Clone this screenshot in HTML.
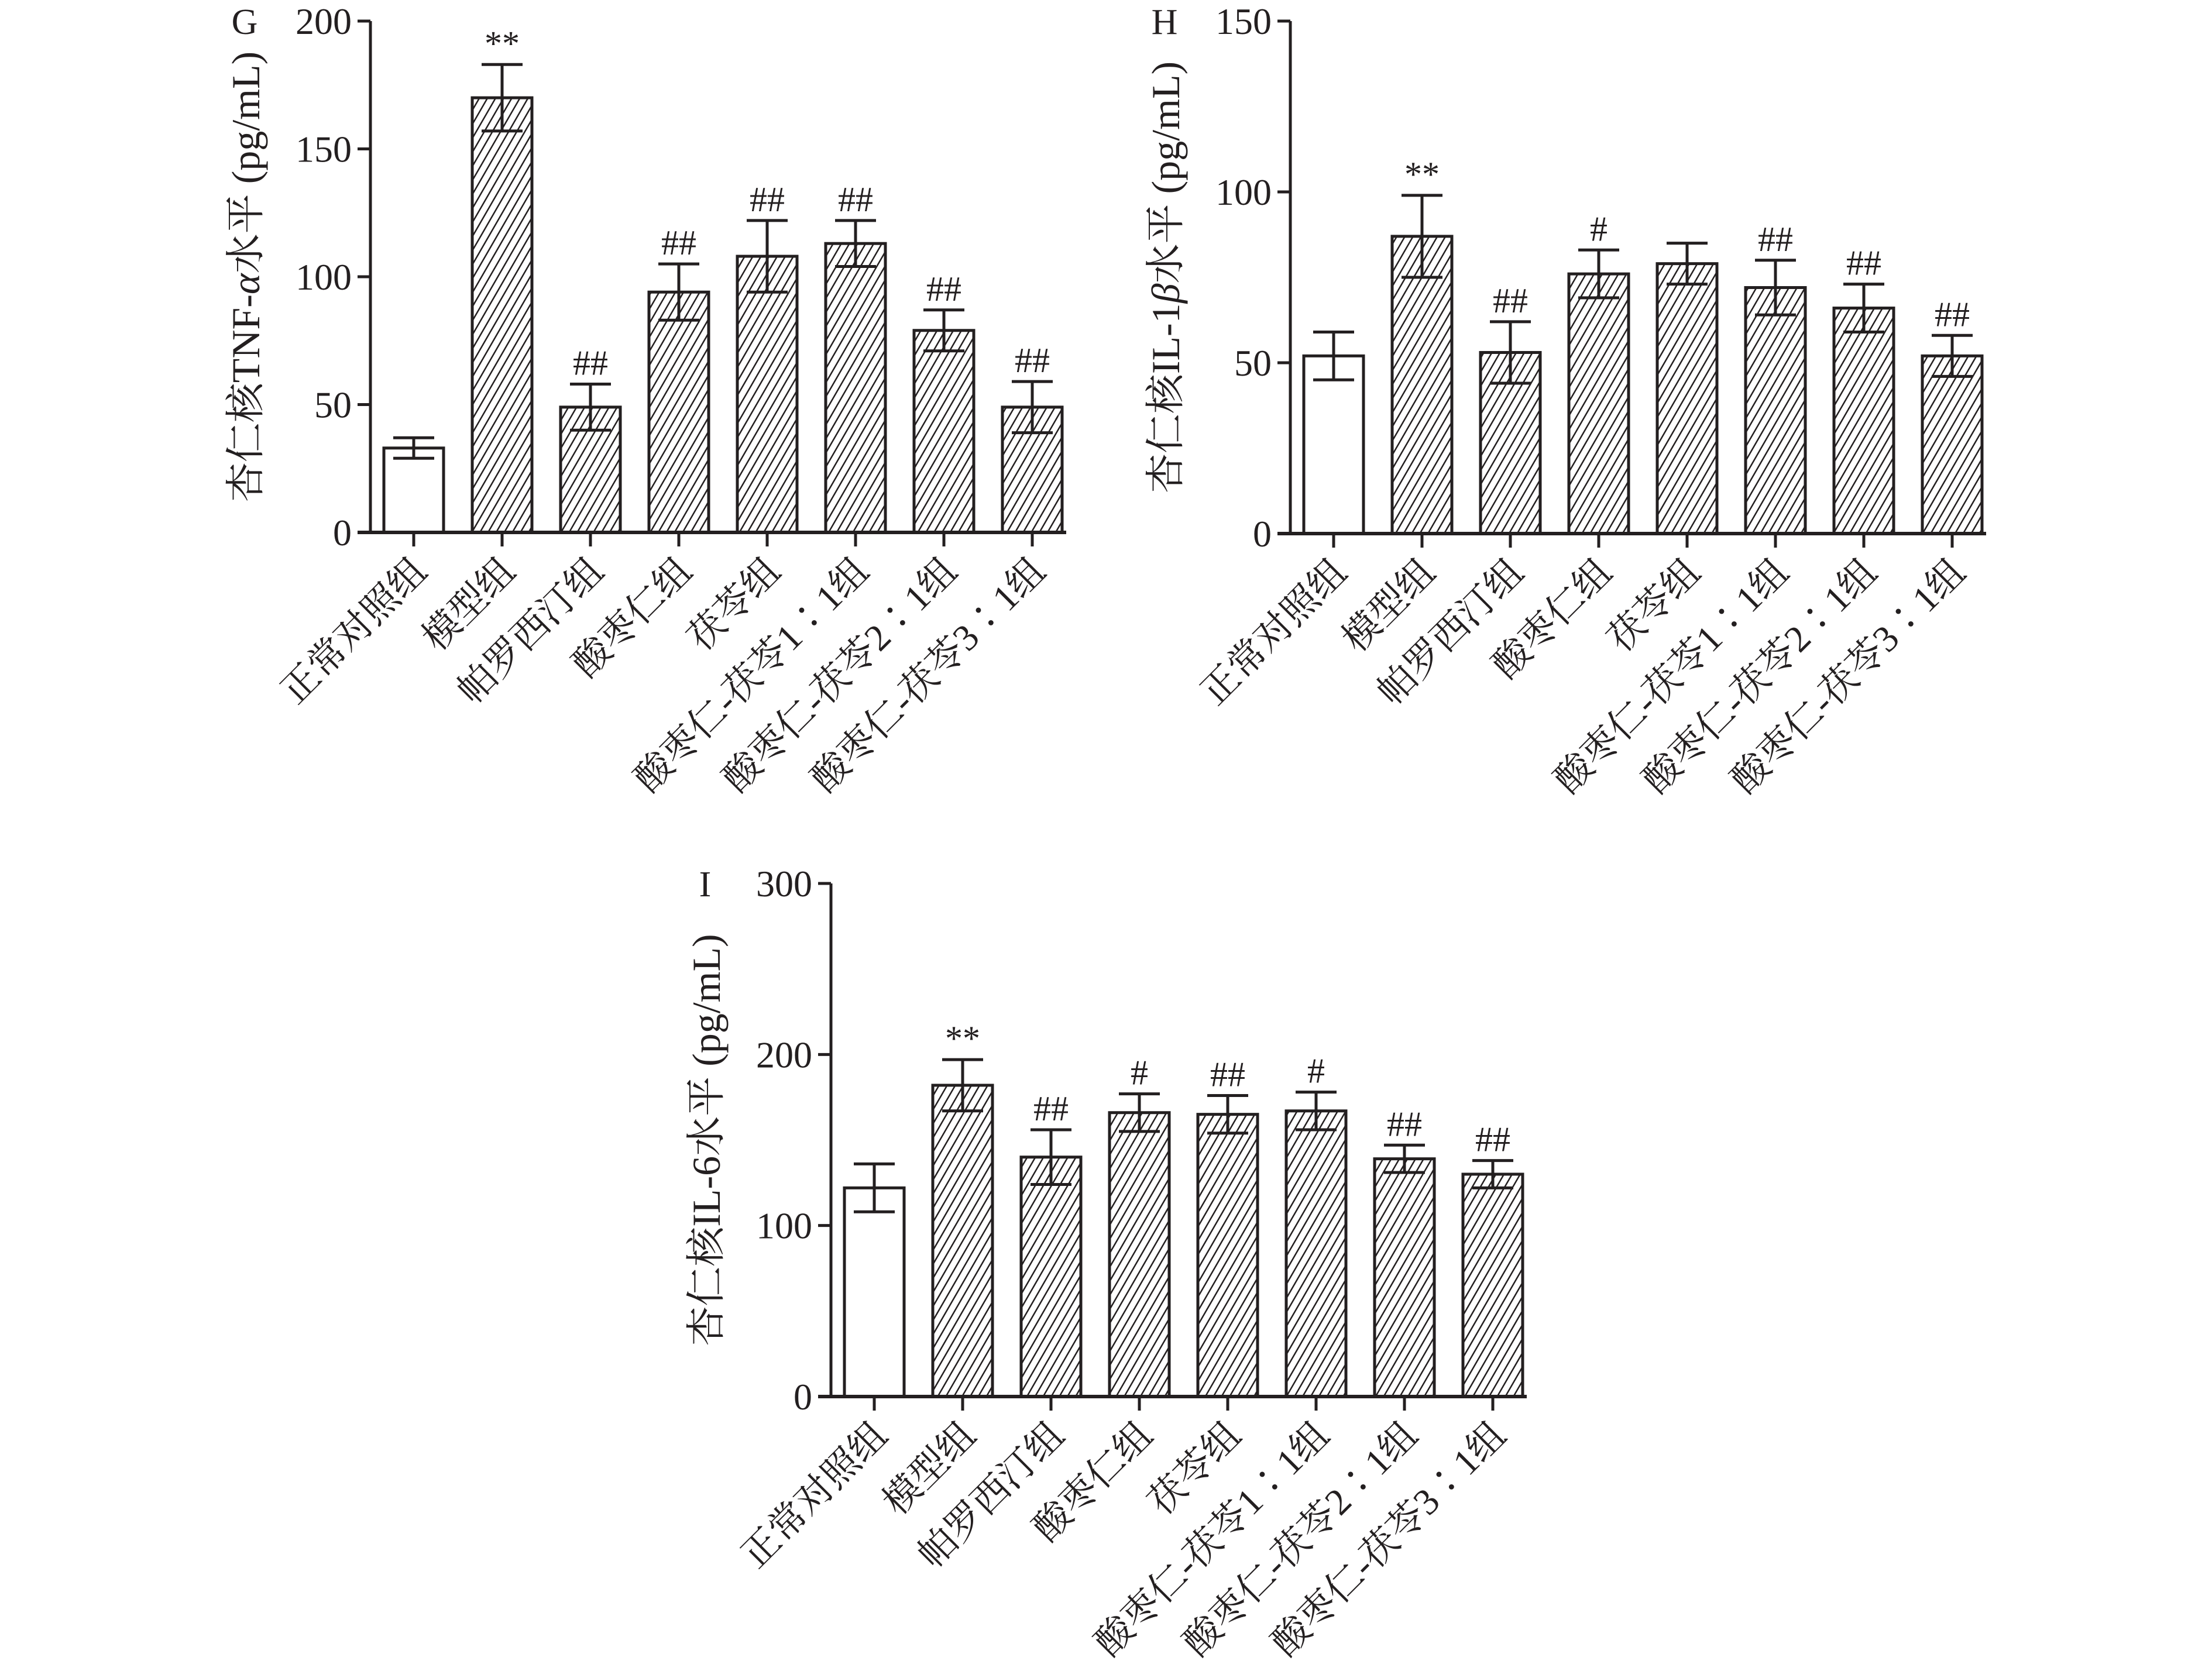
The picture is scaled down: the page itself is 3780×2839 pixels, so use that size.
<!DOCTYPE html>
<html><head><meta charset="utf-8">
<style>
html,body{margin:0;padding:0;background:#fff;}
svg{display:block;}
text{font-family:"Liberation Serif","Noto Serif CJK SC",serif;fill:#231f20;}
</style></head>
<body>
<svg id="fig" width="3780" height="2839" viewBox="0 0 3780 2839" xmlns="http://www.w3.org/2000/svg">
<defs>
<pattern id="hatch" patternUnits="userSpaceOnUse" width="12" height="12" patternTransform="rotate(30)">
<rect width="12" height="12" fill="#fff"/>
<line x1="0" y1="0" x2="0" y2="12" stroke="#231f20" stroke-width="5"/>
</pattern>
</defs>
</svg>
<script>
const categories = ["正常对照组","模型组","帕罗西汀组","酸枣仁组","茯苓组","酸枣仁-茯苓1∶1组","酸枣仁-茯苓2∶1组","酸枣仁-茯苓3∶1组"];
const gValues = [33,170,49,94,108,113,79,49];
const gErrors = [4,13,9,11,14,9,8,10];
const gMarks = ["","**","##","##","##","##","##","##"];
const gTicks = [0,50,100,150,200];
const hValues = [52,87,53,76,79,72,66,52];
const hErrors = [7,12,9,7,6,8,7,6];
const hMarks = ["","**","##","#","","##","##","##"];
const hTicks = [0,50,100,150];
const iValues = [122,182,140,166,165,167,139,130];
const iErrors = [14,15,16,11,11,11,8,8];
const iMarks = ["","**","##","#","##","#","##","##"];
const iTicks = [0,100,200,300];

const svg = document.getElementById('fig');
const NS = "http://www.w3.org/2000/svg";
function mk(tag, attrs, parent){
  const e = document.createElementNS(NS, tag);
  for (const k in attrs) e.setAttribute(k, attrs[k]);
  (parent||svg).appendChild(e);
  return e;
}

function chart(cfg){
  const g = mk('g', {});
  
  
  const ymax = cfg.ticks[cfg.ticks.length-1];
  const y = v => cfg.y0 - (cfg.y0 - cfg.yTop) * v / ymax;
  const x = i => cfg.ax + 74 + i * 151;
  const bw = 102;
  cfg.values.forEach((v,i)=>{
    const r = mk('rect', {x:x(i)-bw/2, y:y(v), width:bw, height:cfg.y0-y(v), fill: i===0?'#fff':'url(#hatch)', stroke:'#231f20','stroke-width':5}, g);
    
    
    const top = y(v+cfg.errors[i]), bot = y(v-cfg.errors[i]);
    const eb = mk('path', {d:`M${x(i)} ${top}V${bot}M${x(i)-35} ${top}H${x(i)+35}M${x(i)-35} ${bot}H${x(i)+35}`, stroke:'#231f20','stroke-width':5, fill:'none'}, g);
    
    
    if (cfg.marks[i]) {
      const t = mk('text', {x:x(i), y:top-16, 'text-anchor':'middle','font-size':60}, g);
      t.textContent = cfg.marks[i];
      
      
    }
    const tk = mk('line', {x1:x(i), x2:x(i), y1:cfg.y0, y2:cfg.y0+24, stroke:'#231f20','stroke-width':5}, g);
    
    
    const lx = x(i)+26, ly = cfg.y0+70;
    const lb = mk('text', {x:lx, y:ly, 'text-anchor':'end','font-size':64, transform:`rotate(-45 ${lx} ${ly})`}, g);
    lb.textContent = categories[i];
    
    
  });
  const ya = mk('line', {x1:cfg.ax, x2:cfg.ax, y1:cfg.yTop, y2:cfg.y0+2, stroke:'#231f20','stroke-width':5}, g);
  
  
  const xa = mk('line', {x1:cfg.ax-22, x2:x(7)+58, y1:cfg.y0, y2:cfg.y0, stroke:'#231f20','stroke-width':6}, g);
  
  
  cfg.ticks.forEach(t=>{
    const l = mk('line', {x1:cfg.ax-22, x2:cfg.ax, y1:y(t), y2:y(t), stroke:'#231f20','stroke-width':5}, g);
    
    
    const tx = mk('text', {x:cfg.ax-32, y:y(t)+22, 'text-anchor':'end','font-size':64}, g);
    tx.textContent = t;
    
    
  });
  const pl = mk('text', {x:cfg.ax-215, y:cfg.yTop+22, 'text-anchor':'middle','font-size':62}, g);
  pl.textContent = cfg.letter;
  
  
  const cy = (cfg.y0 + cfg.yTop)/2, tx = cfg.ax - 190;
  const yt = mk('text', {x:tx, y:cy, 'text-anchor':'middle','font-size':68, transform:`rotate(-90 ${tx} ${cy})`}, g);
  yt.innerHTML = cfg.title;
  
  
}

chart({name:'chart-g-tnf', ax:633, y0:910, yTop:36, ticks:gTicks, values:gValues, errors:gErrors, marks:gMarks, letter:'G',
  title:'杏仁核TNF-<tspan font-style="italic">α</tspan>水平 (pg/mL)'});
chart({name:'chart-h-il1b', ax:2205, y0:912, yTop:36, ticks:hTicks, values:hValues, errors:hErrors, marks:hMarks, letter:'H',
  title:'杏仁核IL-1<tspan font-style="italic">β</tspan>水平 (pg/mL)'});
chart({name:'chart-i-il6', ax:1420, y0:2387, yTop:1510, ticks:iTicks, values:iValues, errors:iErrors, marks:iMarks, letter:'I',
  title:'杏仁核IL-6水平 (pg/mL)'});
</script>
</body></html>
